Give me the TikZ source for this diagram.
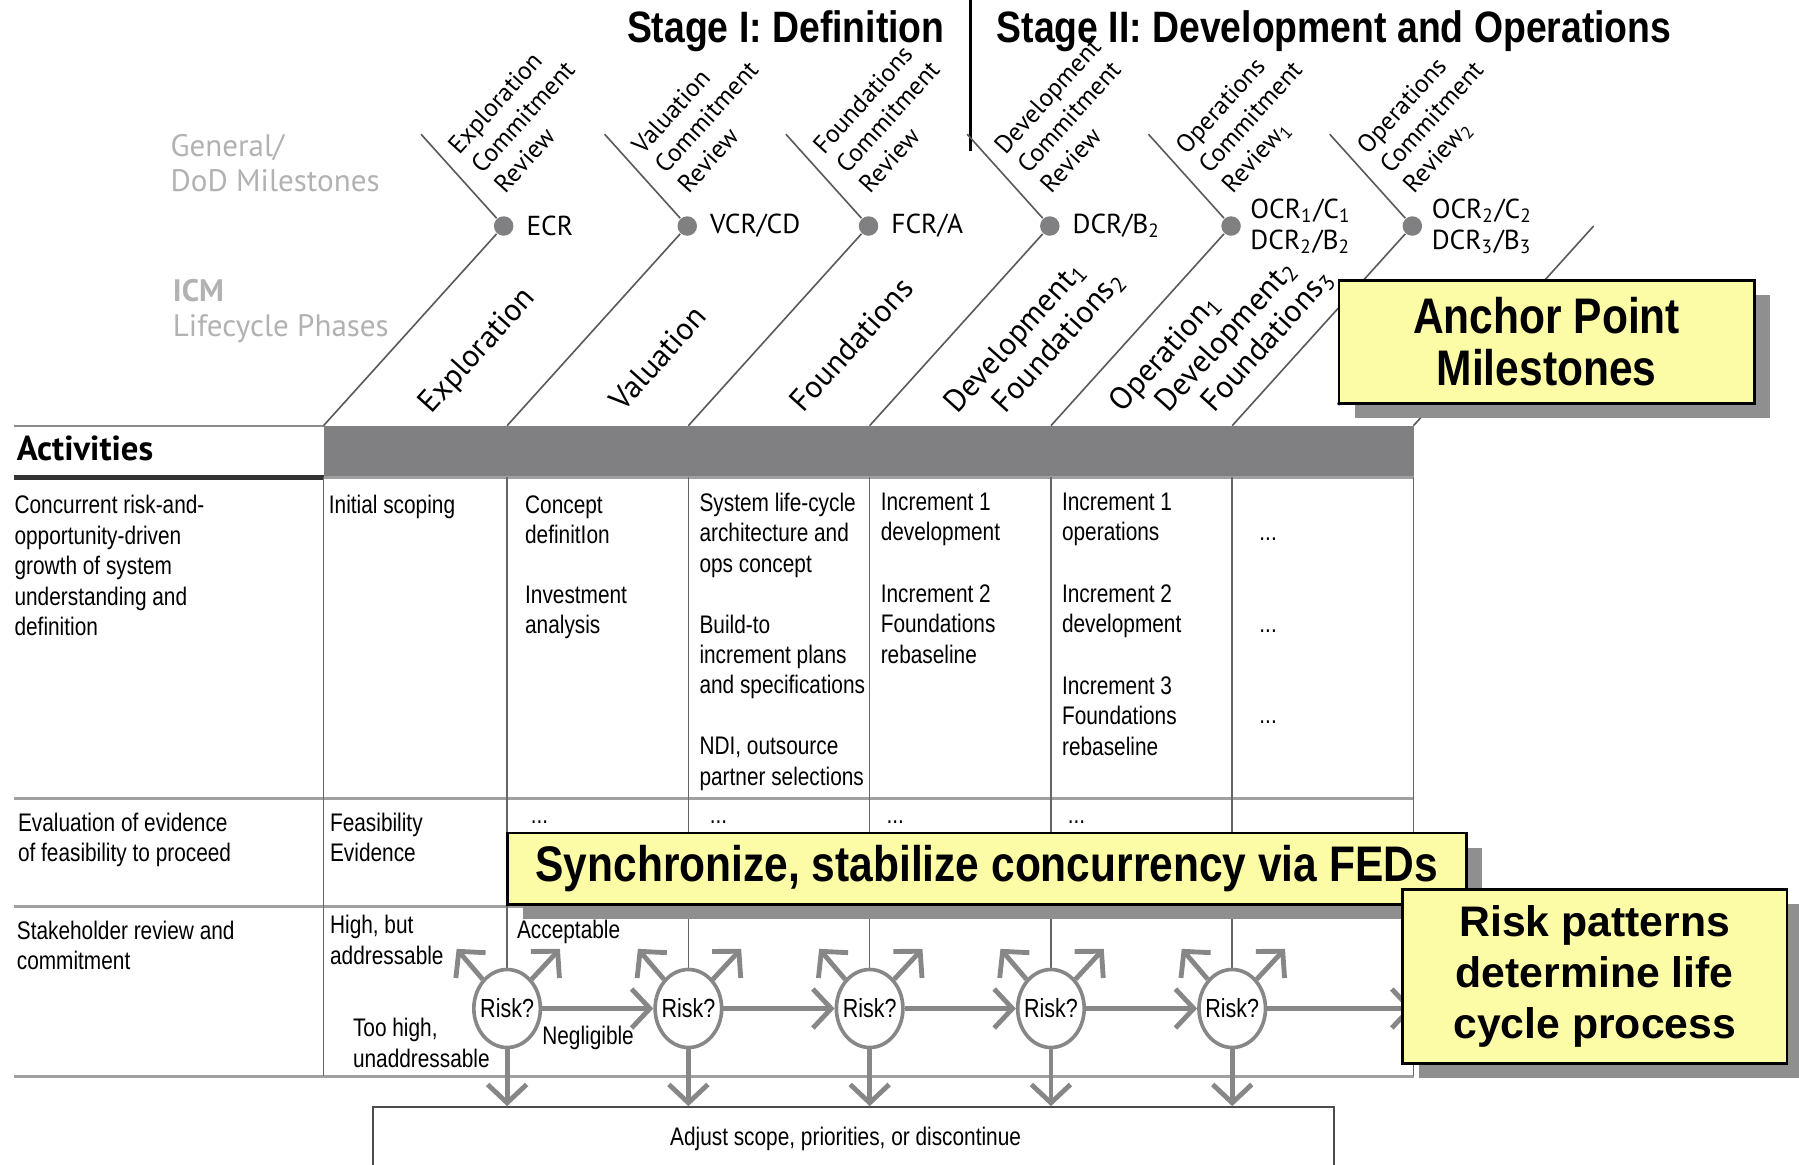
\documentclass[tikz,border=0pt]{standalone}
\usepackage{fontspec}
\setmainfont{Liberation Sans}
\newfontfamily\narrowfont[FakeStretch=0.82]{Liberation Sans}
\newfontfamily\condfont[FakeStretch=0.85]{Liberation Sans}
\newfontfamily\icmfont{PT Sans}
\usepackage{tikz}
\usetikzlibrary{arrows.meta,shapes.geometric,shadows,positioning}

\definecolor{notefill}{RGB}{252,252,166}
\definecolor{shadowgray}{RGB}{143,143,143}
\definecolor{bargray}{RGB}{128,128,130}
\definecolor{labelgray}{RGB}{178,178,178}
\definecolor{rulegray}{RGB}{160,160,160}
\definecolor{arrowgray}{RGB}{135,135,135}

\begin{document}
\begin{tikzpicture}[x=0.1mm,y=-0.1mm,
    tabtext/.style={anchor=north west,inner sep=0pt,align=left,
      font=\narrowfont\fontsize{6.3}{7.55}\selectfont},
    tabdots/.style={anchor=base west,inner sep=0pt,
      font=\narrowfont\fontsize{6.3}{7.55}\selectfont},
    review/.style={anchor=base west,inner sep=0pt,rotate=48,
      font=\icmfont\fontsize{6.3}{7.5}\selectfont},
    phase/.style={anchor=base west,inner sep=0pt,rotate=48,
      font=\icmfont\fontsize{7.8}{8.5}\selectfont},
    graylab/.style={anchor=west,inner sep=0pt,align=left,text=labelgray,
      font=\icmfont\fontsize{7.7}{8.8}\selectfont},
    msdot/.style={circle,fill=bargray,minimum size=1.7mm,inner sep=0pt},
    mslabel/.style={inner sep=0pt,align=left,
      font=\icmfont\fontsize{6.8}{7.7}\selectfont},
    stagetitle/.style={inner sep=0pt,font=\condfont\bfseries\fontsize{10.9}{12}\selectfont},
    riskq/.style={ellipse,draw=arrowgray,line width=0.9pt,fill=white,
      minimum width=5.8mm,minimum height=6.8mm,inner xsep=-0.3mm,inner ysep=0pt,
      font=\narrowfont\fontsize{6.5}{7.5}\selectfont},
    riskarrow/.style={draw=arrowgray,line width=1.2pt,
      -{Straight Barb[length=1.6mm,width=3.4mm]}},
    note/.style={draw=black,line width=0.7pt,fill=notefill,align=center,inner sep=0pt,
      drop shadow={shadow xshift=1.4mm,shadow yshift=-1.3mm,fill=shadowgray,opacity=1}}
  ]
  \tikzstyle{diag}=[draw=black!65,line width=0.4pt]
  \tikzstyle{rowrule}=[draw=rulegray,line width=0.7pt]
  \tikzstyle{colrule}=[draw=black!60,line width=0.4pt]
  \useasboundingbox (0,0) rectangle (1568,1015);
  \clip (0,0) rectangle (1568,1015);

  % stage titles
  \node[stagetitle,anchor=base east] (stage1) at (824,37) {Stage I: Definition};
  \node[stagetitle,anchor=base west] (stage2) at (868,37) {Stage II: Development and Operations};
  \coordinate (septop) at (846,0);
  \coordinate (sepbot) at (846,132);
  \draw[line width=0.6pt] (septop) -- (sepbot);

  \node[graylab] (dodlab) at (148,142) {General/\\DoD Milestones};
  \node[graylab] (icmlab) at (150,271) {\textbf{ICM}\\Lifecycle Phases};

  % activities header and table rules
  \fill[bargray] (282,371) rectangle (1232,416);
  \draw[draw=black!45,line width=0.5pt] (12,371) -- (282,371);
  \draw[draw=black!80,line width=1.1pt] (12,416) -- (282,416);
  \draw[rowrule] (282,416) -- (1232,416);
  \foreach \y in {696,790,938}
    \draw[rowrule] (12,\y) -- (1232,\y);
  \foreach \x in {282,442,600,758,916,1074,1232}
    \draw[colrule] (\x,416) -- (\x,938);
  \node[anchor=west,inner sep=0pt,font=\icmfont\bfseries\fontsize{8.6}{9}\selectfont] (actlab) at (14,391) {Activities};

  % anchor point milestones
  \foreach \c [count=\i] in {282,442,600,758,916,1074} {
    \node[msdot] (ms\i) at (\c+157,197) {};
    \coordinate (mstop\i) at (\c+85,117);
    \coordinate (msbot\i) at (\c,371);
    \draw[diag] (mstop\i) -- (ms\i) -- (msbot\i);
  }
  \coordinate (mstop7) at (1389,197);
  \coordinate (msbot7) at (1232,371);
  \draw[diag] (mstop7) -- (msbot7);

  \node[mslabel,right=1mm of ms1] (ecr) {ECR};
  \node[mslabel,right=1mm of ms2] (vcr) {VCR/CD};
  \node[mslabel,right=1mm of ms3] (fcr) {FCR/A};
  \node[mslabel,right=1mm of ms4] (dcr) {DCR/B\textsubscript{2}};
  \node[mslabel,right=0.7mm of ms5] (ocra) {OCR\textsubscript{1}/C\textsubscript{1}\\DCR\textsubscript{2}/B\textsubscript{2}};
  \node[mslabel,right=0.7mm of ms6] (ocrb) {OCR\textsubscript{2}/C\textsubscript{2}\\DCR\textsubscript{3}/B\textsubscript{3}};

  \foreach \c/\ra/\rb/\rc [count=\i] in {282/Exploration/Commitment/Review,
      442/Valuation/Commitment/Review, 600/Foundations/Commitment/Review,
      758/Development/Commitment/Review,
      916/Operations/Commitment/{Review\textsubscript{1}},
      1074/Operations/Commitment/{Review\textsubscript{2}}} {
    \node[review] (rv\i-a) at (\c+118,136) {\ra};
    \node[review] (rv\i-b) at (\c+138,153) {\rb};
    \node[review] (rv\i-c) at (\c+158,170) {\rc};
  }

  % lifecycle phases
  \node[phase] (ph1) at (376,362) {Exploration};
  \node[phase] (ph2) at (543,360) {Valuation};
  \node[phase] (ph3) at (700,361) {Foundations};
  \node[phase] (ph4-a) at (834,362) {Development\textsubscript{1}};
  \node[phase] (ph4-b) at (876,362) {Foundations\textsubscript{2}};
  \node[phase] (ph5-a) at (978,361) {Operation\textsubscript{1}};
  \node[phase] (ph5-b) at (1018,361) {Development\textsubscript{2}};
  \node[phase] (ph5-c) at (1058,361) {Foundations\textsubscript{3}};
  \node[phase] (ph6) at (1166,356) {...};

  % row 1
  \node[tabtext] (grow) at (12,431) {Concurrent risk-and-\\opportunity-driven\\growth of system\\understanding and\\definition};
  \node[tabtext] (scope) at (286,431) {Initial scoping};
  \node[tabtext] (concept) at (457,431) {Concept\\definitIon};
  \node[tabtext] (invest) at (457,510) {Investment\\analysis};
  \node[tabtext] (arch) at (609,429) {System life-cycle\\architecture and\\ops concept};
  \node[tabtext] (build) at (609,535) {Build-to\\increment plans\\and specifications};
  \node[tabtext] (ndi) at (609,642) {NDI, outsource\\partner selections};
  \node[tabtext] (incdev) at (767,429) {Increment 1\\development};
  \node[tabtext] (incfnd) at (767,509) {Increment 2\\Foundations\\rebaseline};
  \node[tabtext] (incops) at (925,429) {Increment 1\\operations};
  \node[tabtext] (incdevb) at (925,509) {Increment 2\\development};
  \node[tabtext] (incfndb) at (925,589) {Increment 3\\Foundations\\rebaseline};
  \node[tabdots] (more1) at (1097,471) {...};
  \node[tabdots] (more2) at (1097,551) {...};
  \node[tabdots] (more3) at (1097,631) {...};

  % row 2
  \node[tabtext] (evalfe) at (15,708) {Evaluation of evidence\\of feasibility to proceed};
  \node[tabtext] (feas) at (287,708) {Feasibility\\Evidence};
  \foreach \x [count=\i] in {462,618,772,930}
    \node[tabdots] (fedots\i) at (\x,718) {...};

  % row 3
  \node[tabtext] (stake) at (14,802) {Stakeholder review and\\commitment};
  \node[tabtext] (highb) at (287,797) {High, but\\addressable};
  \node[tabtext] (accept) at (450,801) {Acceptable};
  \node[tabtext] (toohigh) at (307,887) {Too high,\\unaddressable};
  \node[tabtext] (neglig) at (472,894) {Negligible};

  \node[draw=black!70,line width=0.5pt,minimum width=83.8mm,minimum height=5.6mm,inner sep=0pt] (adjust) at (744,993) {};
  \node[inner sep=0pt,font=\narrowfont\fontsize{6.3}{7.55}\selectfont] (adjusttxt) at (737,993) {Adjust scope, priorities, or discontinue};

  \foreach \x [count=\i] in {442,600,758,916,1074} {
    \node[riskq] (risk\i) at (\x,879) {Risk?};
    \coordinate (ul\i) at (\x-44,827);
    \coordinate (ur\i) at (\x+46,827);
    \draw[riskarrow] (risk\i.130) -- (ul\i);
    \draw[riskarrow] (risk\i.50) -- (ur\i);
    \draw[riskarrow] (risk\i) -- (risk\i |- adjust.north);
  }
  \foreach \i [evaluate=\i as \j using int(\i+1)] in {1,...,4}
    \draw[riskarrow] (risk\i) -- (risk\j);
  \coordinate (riskout) at (1232,879);
  \draw[riskarrow] (risk5) -- (riskout);

  % call-outs
  \node[note,minimum width=36.2mm,minimum height=10.7mm,
    font=\condfont\bfseries\fontsize{12.4}{12.8}\selectfont] (anchorpt) at (1348,298) {Anchor Point\\Milestones};
  \node[note,minimum width=83.6mm,minimum height=6.2mm,
    font=\condfont\bfseries\fontsize{12.4}{12.8}\selectfont] (syncfed) at (860,757) {Synchronize, stabilize concurrency via FEDs};
  \node[note,minimum width=33.5mm,minimum height=15.2mm,
    font=\bfseries\fontsize{10.6}{12.7}\selectfont] (riskpat) at (1390,851) {Risk patterns\\determine life\\cycle process};
\end{tikzpicture}
\end{document}
